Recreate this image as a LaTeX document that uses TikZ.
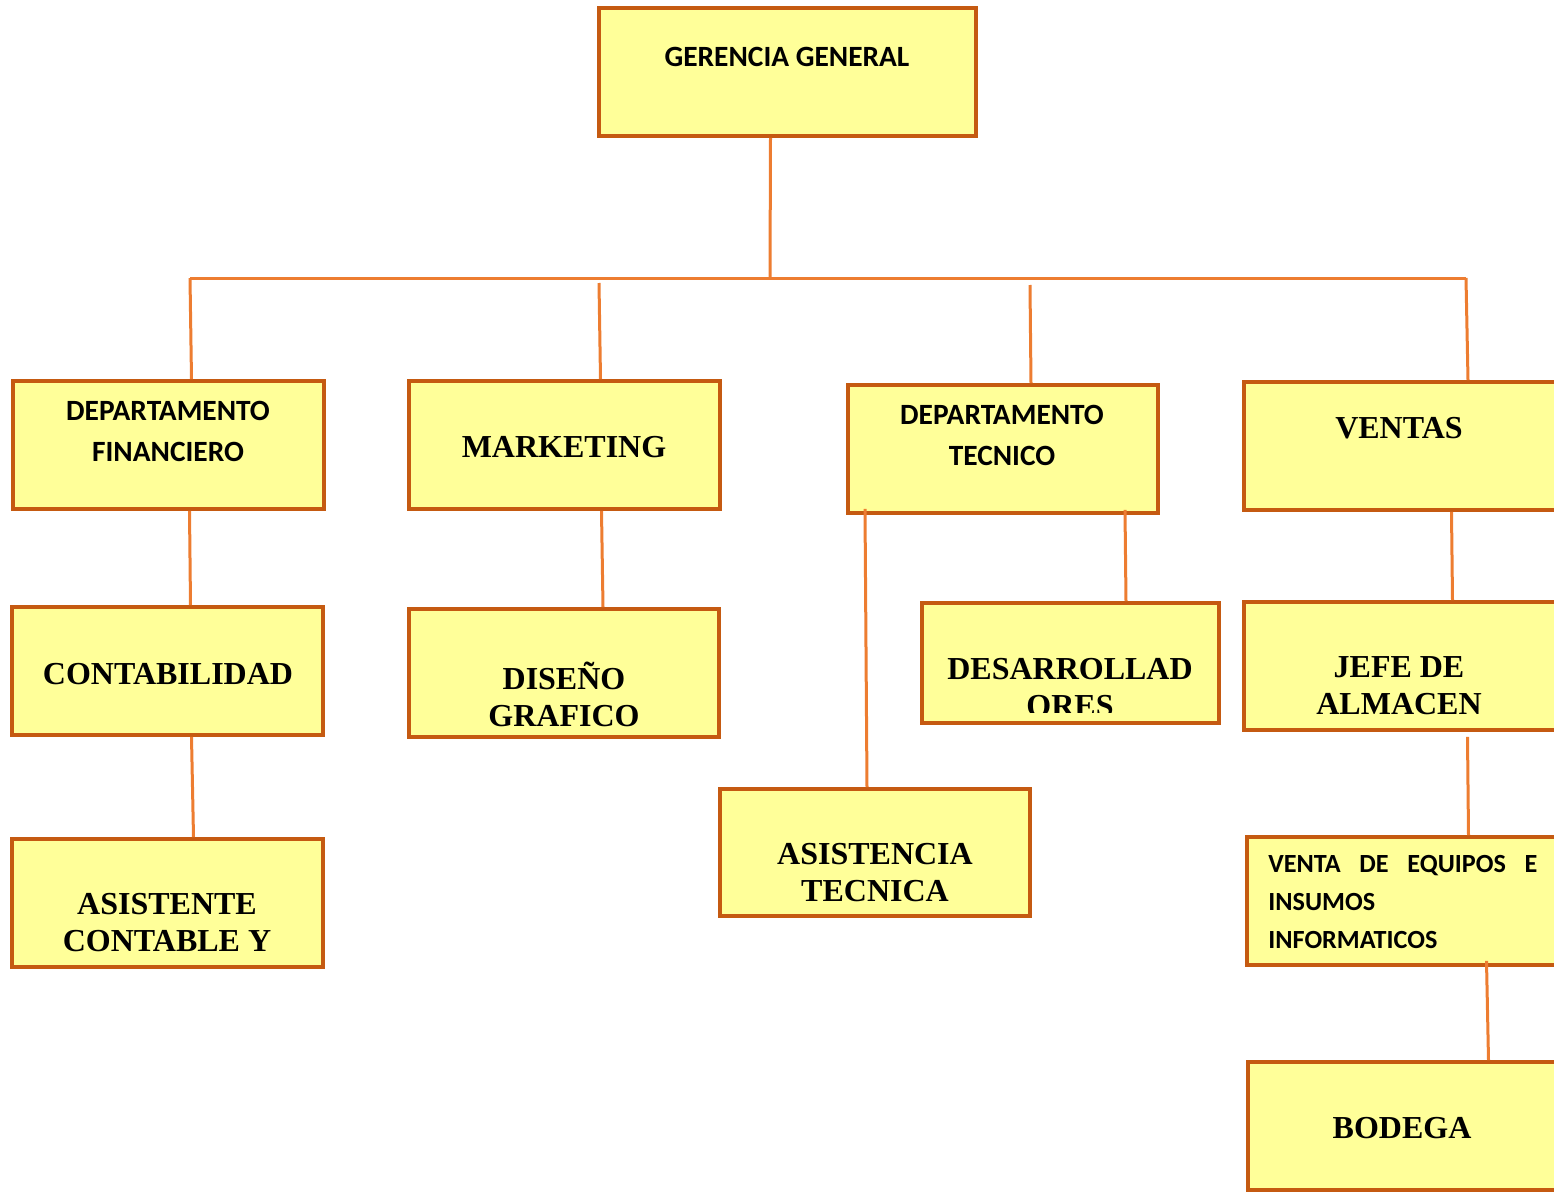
\documentclass[tikz,border=0pt]{standalone}
\usepackage{fontspec}
\setmainfont{Liberation Serif}
\newfontfamily\calibri{Carlito}
\usetikzlibrary{calc,fit}
\definecolor{boxfill}{HTML}{FFFF99}
\definecolor{boxline}{HTML}{C55A11}
\definecolor{linkline}{HTML}{ED7D31}

\begin{document}
\begin{tikzpicture}[x=0.5pt,y=-0.5pt,
  box/.style={draw=boxline,fill=boxfill,line width=1.9pt,inner sep=0pt},
  sans/.style={font=\calibri\bfseries\fontsize{14.7}{20.5}\selectfont,align=center,inner sep=0pt},
  serif/.style={font=\bfseries\fontsize{16}{18.5}\selectfont,align=center,inner sep=0pt},
  link/.style={draw=linkline,line width=1.5pt}
]
\useasboundingbox (0,0) rectangle (1554,1193);
\clip (0,0) rectangle (1554,1193);

% boxes
\node[box,fit={(599,8) (976,136)}] (ger) {};
\node[box,fit={(13,381) (324,509)}] (fin) {};
\node[box,fit={(409,381) (720,509)}] (mkt) {};
\node[box,fit={(848,385) (1158,513)}] (tec) {};
\node[box,fit={(1244,382) (1570,510)}] (ven) {};
\node[box,fit={(12,607) (323,735)}] (con) {};
\node[box,fit={(409,609) (719,737)}] (dis) {};
\node[box,fit={(922,603) (1219,723)}] (des) {};
\node[box,fit={(1244,602) (1570,730)}] (jef) {};
\node[box,fit={(720,789) (1030,916)}] (asi) {};
\node[box,fit={(1247,837) (1570,965)}] (vta) {};
\node[box,fit={(1248,1062) (1570,1190)}] (bod) {};
\node[box,fit={(12,839) (323,967)}] (ast) {};

% texts
\node[sans] (gerT) at (787,57) {GERENCIA GENERAL};
\node[sans] (finT) at (168,431) {DEPARTAMENTO\\FINANCIERO};
\node[serif] (mktT) at (564,447) {MARKETING};
\node[sans] (tecT) at (1002,435) {DEPARTAMENTO\\TECNICO};
\node[serif] (venT) at (1399,428) {VENTAS};
\node[serif] (conT) at (168,674) {CONTABILIDAD};
\node[serif] (disT) at (564,694) {DISEÑO\\GRAFICO};
\begin{scope}
  \clip (921,602) rectangle (1220,712);
  \node[serif] (desT) at (1070,688) {DESARROLLAD\\ORES};
\end{scope}
\node[serif] (jefT) at (1399,686) {JEFE DE\\ALMACEN};
\node[serif] (asiT) at (875,873) {ASISTENCIA\\TECNICA};
\node[sans,font=\calibri\bfseries\fontsize{13.1}{19}\selectfont,align=left,text width=134.5pt,anchor=west] (vtaT) at (1268,902)
  {VENTA\hfill DE\hfill EQUIPOS\hfill E\\INSUMOS\\INFORMATICOS};
\node[serif] (bodT) at (1402,1128) {BODEGA};
\node[serif] (astT) at (167,923) {ASISTENTE\\CONTABLE Y};

% connectors
\coordinate (hub) at (770,278);
\coordinate (barL) at (190,278);
\coordinate (barR) at (1466,278);
\coordinate (mktTop) at (599,283);
\coordinate (tecTop) at (1030,285);
\draw[link] ($(ger.south)+(-17,0)$) -- (hub);
\draw[link] (barL) -- (barR);
\draw[link] (barL) -- ($(fin.north)+(23,0)$);
\draw[link] (mktTop) -- ($(mkt.north)+(36,0)$);
\draw[link] (tecTop) -- ($(tec.north)+(28,0)$);
\draw[link] (barR) -- ($(ven.north)+(61,0)$);
\draw[link] ($(fin.south)+(21,0)$) -- ($(con.north)+(23,0)$);
\draw[link] ($(con.south)+(24,0)$) -- ($(ast.north)+(26,0)$);
\draw[link] ($(mkt.south)+(37,0)$) -- ($(dis.north)+(39,0)$);
\draw[link] ($(tec.south)+(-138,-6)$) -- ($(asi.north)+(-8,0)$);
\draw[link] ($(tec.south)+(122,-5)$) -- ($(des.north)+(55.5,0)$);
\draw[link] ($(ven.south)+(44.5,0)$) -- ($(jef.north)+(45.5,0)$);
\draw[link] ($(jef.south)+(60.5,5)$) -- ($(vta.north)+(60,0)$);
\draw[link] ($(vta.south)+(78,-6)$) -- ($(bod.north)+(79.5,0)$);
\end{tikzpicture}
\end{document}
